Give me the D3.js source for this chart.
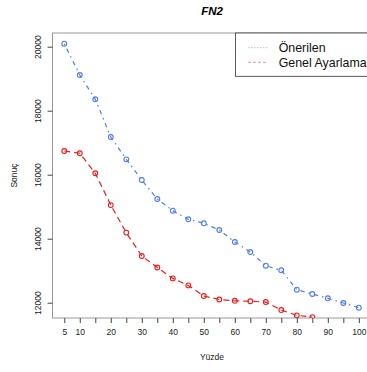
<!DOCTYPE html>
<html>
<head>
<meta charset="utf-8">
<script src="https://cdn.jsdelivr.net/npm/d3@7"></script>
<style>
  html, body { margin: 0; padding: 0; background: #fff; }
  svg { display: block; font-family: "Liberation Sans", Arial, sans-serif; }
</style>
</head>
<body>
<svg id="chart" width="367" height="372"></svg>
<script>
const xValues = [5, 10, 15, 20, 25, 30, 35, 40, 45, 50, 55, 60, 65, 70, 75, 80, 85, 90, 95, 100];
const oneriLen = [20094, 19116, 18356, 17178, 16480, 15834, 15240, 14875, 14606, 14481, 14272, 13897, 13584, 13156, 13012, 12406, 12272, 12137, 11990, 11844];
const genelAyarlama = [16740, 16670, 16045, 15050, 14190, 13460, 13100, 12760, 12540, 12210, 12100, 12060, 12045, 12020, 11770, 11605, 11550];
const xTicks = [5, 10, 15, 20, 25, 30, 35, 40, 45, 50, 55, 60, 65, 70, 75, 80, 85, 90, 95, 100];
const xTickLabels = [5, 10, 20, 30, 40, 50, 60, 70, 80, 90, 100];
const yTicks = [12000, 14000, 16000, 18000, 20000];
const seriesNames = ["Önerilen", "Genel Ayarlama"];
const seriesColors = ["#4f7ded", "#ee1c1c"];
const seriesDash = ["1.5,4,4.5,4", "6,4"];

const svg = d3.select("#chart");
const L = 52.5, T = 33, B = 318, R = 370.6;

const x = d3.scaleLinear().domain([1.2, 103.8]).range([L, R]);
const y = d3.scaleLinear().domain([11522, 20428]).range([B, T]);

svg.append("defs").append("clipPath").attr("id", "clip")
  .append("rect").attr("x", L).attr("y", T).attr("width", R - L).attr("height", B - T);

// Title
svg.append("text").attr("x", 212).attr("y", 15).attr("text-anchor", "middle")
  .attr("font-size", 11.5).attr("font-weight", "bold").attr("font-style", "italic")
  .text("FN2");

// Plot box
svg.append("rect").attr("x", L).attr("y", T).attr("width", R - L).attr("height", B - T)
  .attr("fill", "none").attr("stroke", "#999").attr("stroke-width", 1);

// X axis
const xAxis = d3.axisBottom(x).tickValues(xTicks).tickSize(5).tickSizeOuter(0)
  .tickFormat(d => xTickLabels.includes(d) ? d : "");
const gx = svg.append("g").attr("transform", `translate(0,${B})`).call(xAxis);
gx.select(".domain").remove();
gx.selectAll(".tick line").attr("stroke", "#444");
gx.selectAll(".tick text").attr("font-size", 8.5).attr("fill", "#222").attr("dy", "1.05em")
  .attr("font-family", "Liberation Sans, Arial, sans-serif");

// Y axis
const yAxis = d3.axisLeft(y).tickValues(yTicks).tickSize(5).tickSizeOuter(0).tickFormat(d3.format("d"));
const gy = svg.append("g").attr("transform", `translate(${L},0)`).call(yAxis);
gy.select(".domain").remove();
gy.selectAll(".tick line").attr("stroke", "#444");
gy.selectAll(".tick text").attr("font-size", 8.5).attr("fill", "#222")
  .attr("font-family", "Liberation Sans, Arial, sans-serif")
  .attr("x", null)
  .attr("text-anchor", "middle")
  .attr("transform", "translate(-12,0) rotate(-90)")
  .attr("dy", "0em");

// Axis labels
svg.append("text").attr("x", 212).attr("y", 360).attr("text-anchor", "middle")
  .attr("font-size", 8.5).attr("fill", "#222").text("Yüzde");
svg.append("text").attr("transform", "translate(17,175.5) rotate(-90)").attr("text-anchor", "middle")
  .attr("font-size", 8.5).attr("fill", "#222").text("Sonuç");

// Series
const series = [
  xValues.map((v, i) => [v, oneriLen[i]]),
  genelAyarlama.map((v, i) => [xValues[i], v])
];
const line = d3.line().x(d => x(d[0])).y(d => y(d[1]));
const plotG = svg.append("g").attr("clip-path", "url(#clip)");
series.forEach((s, k) => {
  plotG.append("path").datum(s).attr("d", line).attr("fill", "none")
    .attr("stroke", seriesColors[k]).attr("stroke-width", 1.2)
    .attr("stroke-dasharray", seriesDash[k]);
  plotG.selectAll(null).data(s).enter().append("circle")
    .attr("cx", d => x(d[0])).attr("cy", d => y(d[1])).attr("r", 2.4)
    .attr("fill", "none").attr("stroke", seriesColors[k]).attr("stroke-width", 1.1);
});

// Legend
const lg = svg.append("g");
lg.append("rect").attr("x", 235.5).attr("y", T).attr("width", 150).attr("height", 43.3)
  .attr("fill", "#fff").attr("stroke", "#333").attr("stroke-width", 0.8);
seriesNames.forEach((name, k) => {
  const yy = 47.7 + k * 14.6;
  lg.append("line").attr("x1", 248).attr("x2", 268).attr("y1", yy).attr("y2", yy)
    .attr("stroke", seriesColors[k]).attr("stroke-width", 0.8).attr("stroke-opacity", 0.6)
    .attr("stroke-dasharray", k === 0 ? "1.5,1.5" : "3,2");
  lg.append("text").attr("x", 278.7).attr("y", yy).attr("dy", "0.35em")
    .attr("font-size", 12.4).attr("fill", "#111").text(name);
});
</script>
</body>
</html>
